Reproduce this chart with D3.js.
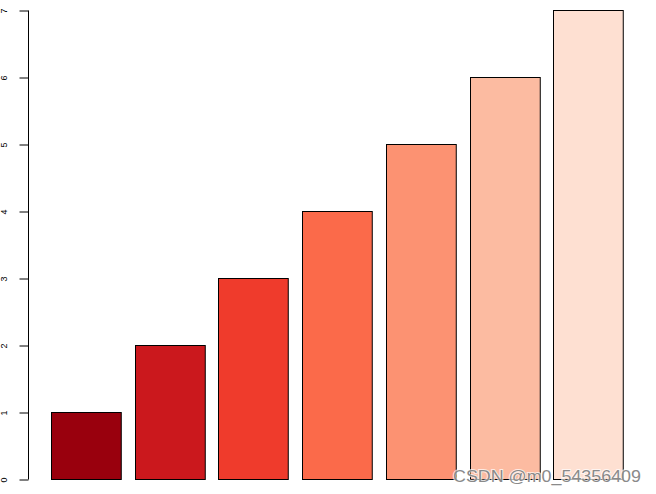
<!DOCTYPE html>
<html><head><meta charset="utf-8">
<script src="https://cdn.jsdelivr.net/npm/d3@7"></script>
<style>html,body{margin:0;padding:0;background:#fff;}</style>
</head><body>
<script>
const categories = ["A","B","C","D","E","F","G"];
const values = [1,2,3,4,5,6,7];
const colors = ["#99000D","#CB181D","#EF3B2C","#FB6A4A","#FC9272","#FCBBA1","#FEE0D2"];
const yTicks = [0,1,2,3,4,5,6,7];

const W = 656, H = 494;
const svg = d3.select("body").append("svg").attr("width", W).attr("height", H);

const x = d3.scaleBand().domain(categories).range([51, 623]).paddingInner(0.2/1.2).paddingOuter(0);
const y = d3.scaleLinear().domain([0, 7]).range([479, 10]);

svg.append("g").selectAll("rect").data(values).join("rect")
  .attr("x", (d,i) => Math.round(x(categories[i])) + 0.5)
  .attr("y", d => Math.round(y(d)) + 0.5)
  .attr("width", x.bandwidth())
  .attr("height", d => Math.round(y(0)) - Math.round(y(d)))
  .attr("fill", (d,i) => colors[i])
  .attr("stroke", "#000").attr("stroke-width", 1);

const axis = d3.axisLeft(y).tickValues(yTicks).tickSize(9).tickPadding(0).tickFormat(d3.format("d"));
const g = svg.append("g").attr("transform", "translate(28.5,0.5)").call(axis);
g.select(".domain").attr("d", `M0,${y(0)}V${y(7)}`).attr("stroke", "#000");
g.selectAll(".tick line").attr("stroke", "#000");
g.selectAll(".tick text")
  .attr("x", 0).attr("dy", null)
  .attr("transform", "translate(-23.5,0) rotate(-90)")
  .attr("text-anchor", "middle")
  .attr("dominant-baseline", "middle")
  .style("font-family", "Liberation Sans, Arial, sans-serif")
  .style("font-size", "9px")
  .attr("fill", "#000");

const wm = "CSDN @m0_54356409";
svg.append("text").attr("x", 453).attr("y", 482)
  .attr("textLength", 188).attr("lengthAdjust", "spacingAndGlyphs")
  .style("font-family", "Liberation Sans, Arial, sans-serif").style("font-size", "17px")
  .attr("fill", "#fff").attr("stroke", "#fff").attr("stroke-width", 2).attr("opacity", 0.7)
  .text(wm);
svg.append("text").attr("x", 453).attr("y", 482)
  .attr("textLength", 188).attr("lengthAdjust", "spacingAndGlyphs")
  .style("font-family", "Liberation Sans, Arial, sans-serif").style("font-size", "17px")
  .attr("fill", "#8a8a8a")
  .text(wm);
</script>
</body></html>
